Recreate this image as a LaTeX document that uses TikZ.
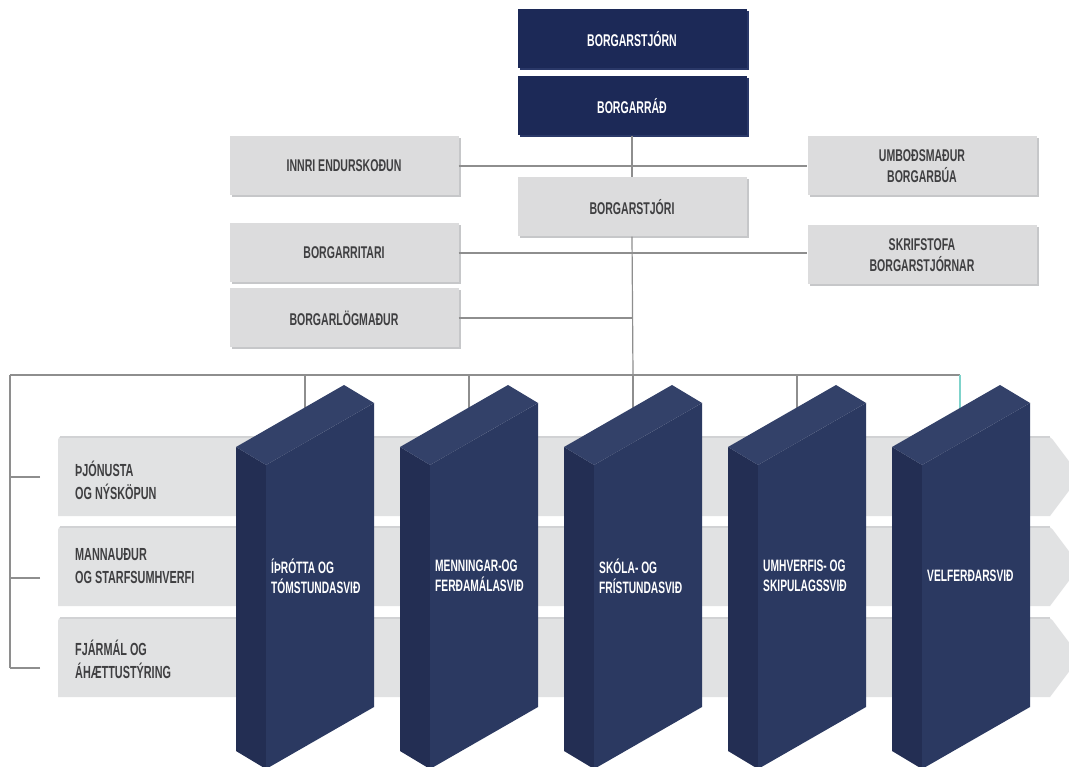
\documentclass[tikz,border=0pt]{standalone}
\usepackage{fontspec}
\newfontfamily\orgfont[FakeStretch=0.62]{Liberation Sans}
\usetikzlibrary{calc}
\usetikzlibrary{shadows}
\definecolor{navy}{HTML}{1C2957}
\definecolor{navyedge}{HTML}{2A3868}
\definecolor{boxgray}{HTML}{DCDCDD}
\definecolor{boxedge}{HTML}{C6C7C9}
\definecolor{bandgray}{HTML}{E1E2E3}
\definecolor{bandedge}{HTML}{D1D2D4}
\definecolor{txtgray}{HTML}{3F3F41}
\definecolor{linegray}{HTML}{8E8E8E}
\definecolor{pilfront}{HTML}{2B3961}
\definecolor{pilside}{HTML}{232E53}
\definecolor{piltop}{HTML}{334169}
\definecolor{tealline}{HTML}{7FD3CB}
\tikzset{
 orgbox/.style={minimum width=229, minimum height=59, inner sep=0, align=center,
  font=\orgfont\bfseries\fontsize{17}{21}\selectfont},
 greybox/.style={orgbox, fill=boxgray, text=txtgray,
  general shadow={fill=boxedge, shadow xshift=2pt, shadow yshift=-2pt}},
 navybox/.style={orgbox, fill=navy, text=white,
  general shadow={fill=navyedge, shadow xshift=2pt, shadow yshift=-2pt}},
 conn/.style={linegray, line width=1.2pt},
 bandlabel/.style={anchor=west, inner sep=0, align=left, text=txtgray,
  font=\orgfont\bfseries\fontsize{17.5}{23}\selectfont},
 pillabel/.style={anchor=west, inner sep=0, align=left, text=white,
  font=\orgfont\bfseries\fontsize{16.5}{20}\selectfont}
}
\begin{document}
\begin{tikzpicture}[x=1pt, y=-1pt]
\useasboundingbox[fill=white] (0,0) rectangle (1069,767);
\node[navybox] (stjorn) at (632,39) {BORGARSTJÓRN};
\node[navybox] (rad) at (632,106) {BORGARRÁÐ};
\node[greybox] (innri) at (344,166) {INNRI ENDURSKOÐUN};
\node[greybox] (umbod) at (922,166) {UMBOÐSMAÐUR\\BORGARBÚA};
\node[greybox] (stjori) at (632,207) {BORGARSTJÓRI};
\node[greybox] (ritari) at (344,253) {BORGARRITARI};
\node[greybox] (skrif) at (922,255) {SKRIFSTOFA\\BORGARSTJÓRNAR};
\node[greybox] (logm) at (344,318) {BORGARLÖGMAÐUR};

\coordinate (bus0) at (10,375);
\foreach \x [count=\i] in {305,469,633,797,960} {
 \coordinate (bus\i) at (\x,375);
 \coordinate (top\i) at (\x,410);
}
\draw[conn] (rad.south) -- (stjori.north);
\draw[conn] (stjori.south) -- (bus3);
\draw[conn] (innri.east) -- (umbod.west);
\draw[conn] (ritari.east) -- (ritari.east -| skrif.west);
\draw[conn] (logm.east) -- (logm.east -| stjori.south);
\draw[conn] (bus0) -- (bus5);
\foreach \i in {1,...,4} {
 \draw[conn] (bus\i) -- (top\i);
}
\draw[tealline, line width=1.2pt] (bus5) -- (top5);
\foreach \y [count=\i] in {477,578,668} {
 \coordinate (tick\i) at (40,\y);
 \draw[conn] (tick\i) -- (10,\y);
}
\draw[conn] (bus0) -- (10,668);

\foreach \yt/\yc/\lab [count=\i] in {436/480/{ÞJÓNUSTA\\OG NÝSKÖPUN},
  526/566/{MANNAUÐUR\\OG STARFSUMHVERFI}, 617/659/{FJÁRMÁL OG\\ÁHÆTTUSTÝRING}} {
 \fill[bandgray, rounded corners=4] (58,\yt+80) -- (58,\yt) -- (1050,\yt)
   [sharp corners] -- (1080,\yt+40) -- (1050,\yt+80) -- cycle;
 \draw[bandedge, line width=2.5pt] (60,\yt+1) -- (1050,\yt+1);
 \node[bandlabel] (band\i) at (75,\yc) {\lab};
}

\foreach \px/\lab [count=\i] in {236/{ÍÞRÓTTA OG\\TÓMSTUNDASVIÐ}, 400/{MENNINGAR-OG\\FERÐAMÁLASVIÐ},
  564/{SKÓLA- OG\\FRÍSTUNDASVIÐ}, 728/{UMHVERFIS- OG\\SKIPULAGSSVIÐ}, 892/{VELFERÐARSVIÐ}} {
 \coordinate (p\i) at (\px,447);
 \fill[pilside] (p\i) -- ++(30,18) -- ++(0,304) -- ++(-30,-18) -- cycle;
 \fill[pilfront] ($(p\i)+(30,18)$) -- ++(108,-62) -- ++(0,304) -- ++(-108,62) -- cycle;
 \fill[piltop] (p\i) -- ++(108,-62) -- ++(30,18) -- ++(-108,62) -- cycle;
 \node[pillabel] (s\i) at ($(p\i)+(35,129)$) {\lab};
}
\end{tikzpicture}
\end{document}
